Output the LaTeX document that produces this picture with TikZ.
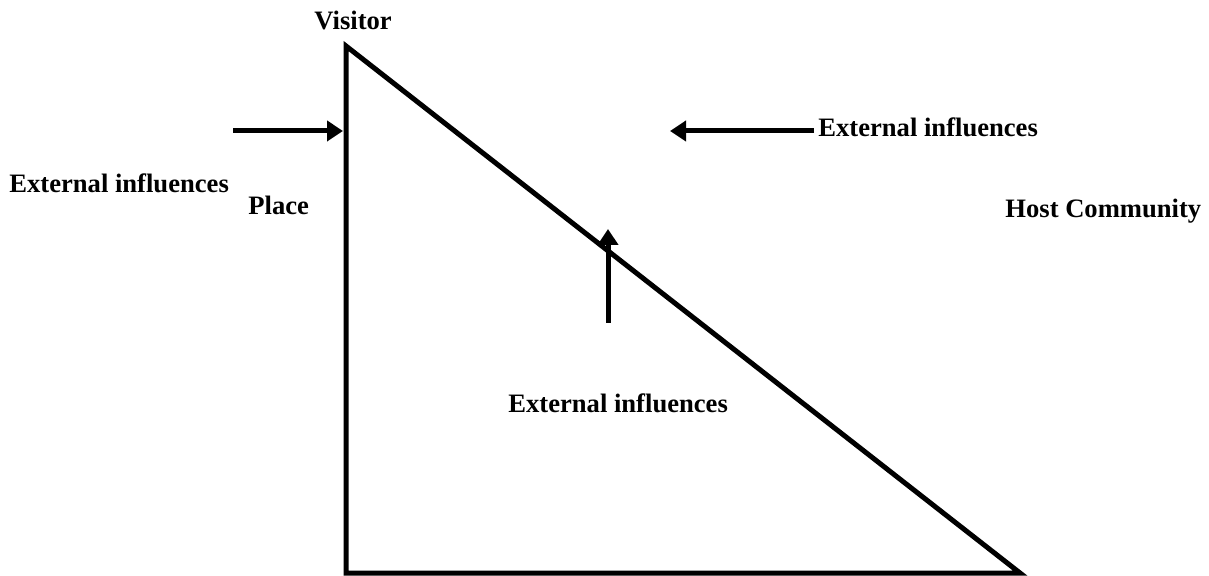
\documentclass[tikz,border=0pt]{standalone}
\usepackage{fontspec}
\setmainfont{Liberation Serif}
\usetikzlibrary{arrows.meta}
\tikzset{
  label/.style={anchor=base west, inner sep=0pt, font=\fontsize{13.3}{16}\selectfont\bfseries},
  influence/.style={line width=2.5pt, -{Triangle[length=8pt, width=10pt]}}
}
\begin{document}
\begin{tikzpicture}[x=0.5pt, y=-0.5pt]
  \useasboundingbox (0,0) rectangle (1209,576);

  \coordinate (visitor) at (346,46);
  \coordinate (place) at (346,573);
  \coordinate (host) at (1020,573);
  \draw[line width=2.5pt, line join=miter] (visitor) -- (host) -- (place) -- cycle;

  \node[label] (lvisitor) at (314,30) {Visitor};
  \node[label] (lplace) at (248,215) {Place};
  \node[label] (lhost) at (1005,218) {Host Community};
  \node[label] (extleft) at (9,193) {External influences};
  \node[label] (exttop) at (818,137) {External influences};
  \node[label] (extbottom) at (508,413) {External influences};

  \coordinate (lefttail) at (233,131);
  \coordinate (lefttip) at (343,131);
  \coordinate (toptail) at (814,131);
  \coordinate (toptip) at (670,131);
  \coordinate (uptail) at (608,323);
  \coordinate (uptip) at (608,229);

  \draw[influence] (lefttail) -- (lefttip);
  \draw[influence] (toptail) -- (toptip);
  \draw[influence] (uptail) -- (uptip);
\end{tikzpicture}
\end{document}
